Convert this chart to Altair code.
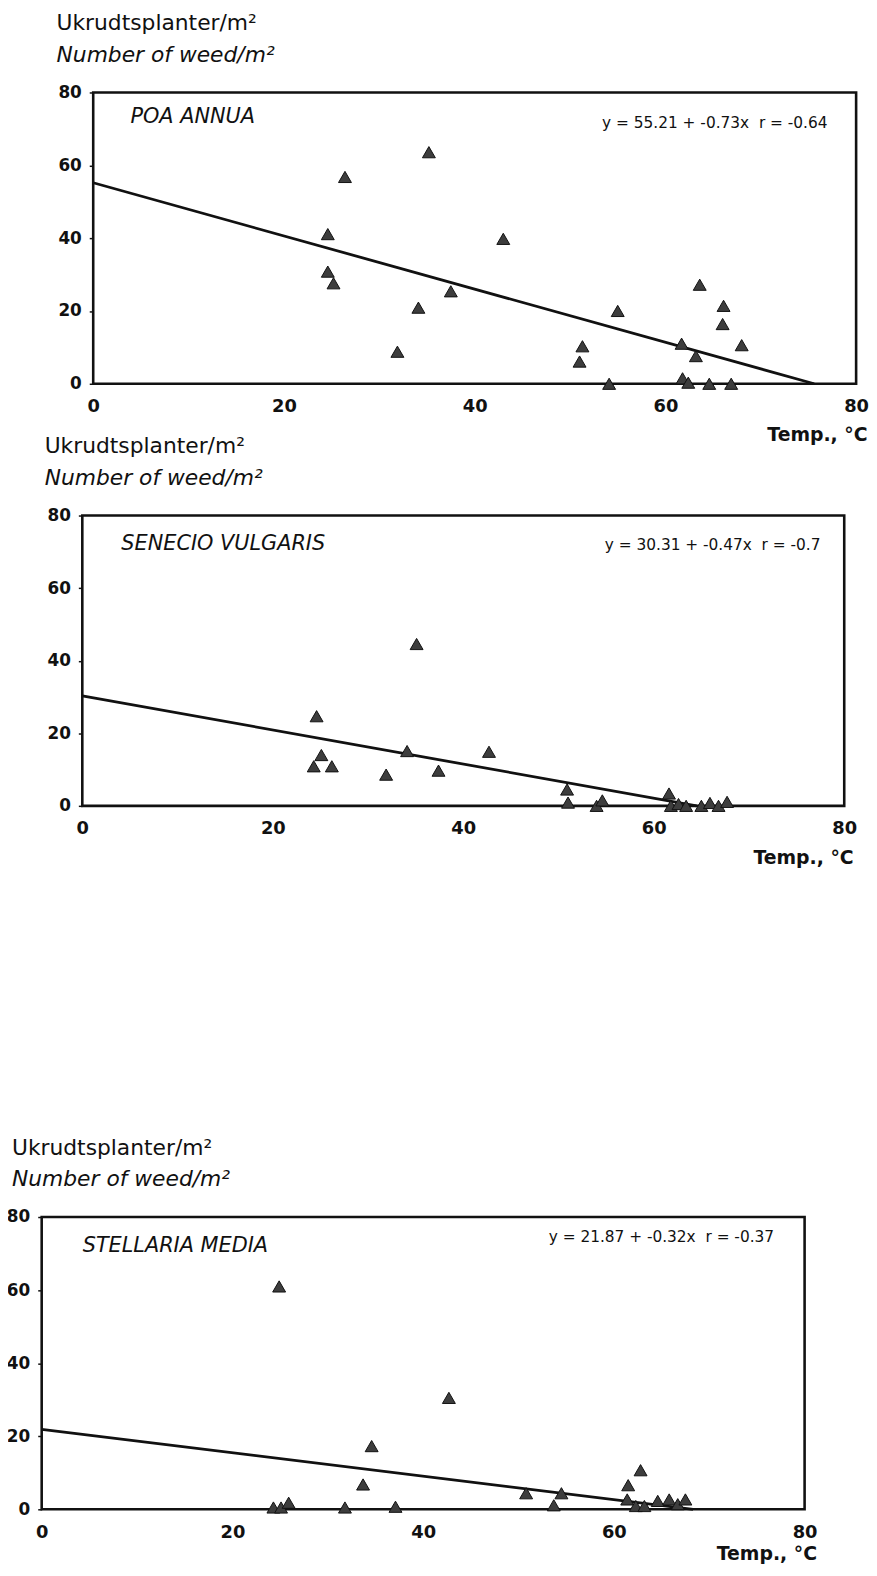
import altair as alt
import pandas as pd

# ---------------- data ----------------
temp_ticks = [0, 20, 40, 60, 80]
weed_ticks = [0, 20, 40, 60, 80]

species = ["POA ANNUA", "SENECIO VULGARIS", "STELLARIA MEDIA"]
equations = [
    "y = 55.21 + -0.73x\u00a0\u00a0r = -0.64",
    "y = 30.31 + -0.47x\u00a0\u00a0r = -0.7",
    "y = 21.87 + -0.32x\u00a0\u00a0r = -0.37",
]

poa_temp = [24.6, 24.6, 25.2, 26.4, 35.2, 31.9, 34.1, 37.5, 43.0, 51.3, 51.0, 54.1,
            55.0, 61.7, 61.8, 62.4, 63.2, 63.6, 64.6, 66.1, 66.0, 66.9, 68.0]
poa_weed = [41.1, 30.8, 27.6, 56.8, 63.6, 8.8, 20.9, 25.4, 39.8, 10.3, 6.1, 0.0,
            20.0, 11.0, 1.5, 0.3, 7.6, 27.2, 0.0, 21.4, 16.4, 0.0, 10.6]
poa_fit_temp = [0, 75.6]
poa_fit_weed = [55.21, 0]

sen_temp = [24.6, 25.1, 24.3, 26.2, 31.9, 34.1, 35.1, 37.4, 42.7, 50.9, 51.0, 54.0,
            54.6, 61.6, 61.8, 62.6, 63.4, 65.0, 65.9, 66.8, 67.7]
sen_weed = [24.7, 14.0, 10.9, 10.9, 8.6, 15.1, 44.6, 9.7, 14.9, 4.5, 0.9, 0.0,
            1.5, 3.4, 0.0, 0.5, 0.0, 0.0, 0.8, 0.0, 1.1]
sen_fit_temp = [0, 64.5]
sen_fit_weed = [30.31, 0]

ste_temp = [24.9, 42.7, 34.6, 33.7, 24.3, 25.1, 25.9, 31.8, 37.1, 50.8, 54.5, 53.7,
            61.5, 62.8, 61.4, 62.3, 63.2, 64.6, 65.8, 66.7, 67.5]
ste_weed = [61.0, 30.5, 17.3, 6.8, 0.5, 0.5, 1.8, 0.5, 0.7, 4.4, 4.4, 1.1,
            6.6, 10.7, 2.7, 0.9, 0.9, 2.3, 2.7, 1.4, 2.7]
ste_fit_temp = [0, 68.3]
ste_fit_weed = [21.87, 0]

# ---------------- layout / style ----------------
FONT = "DejaVu Sans"
INK = "#111111"
VIEW_W = 822

layout = [
    dict(xr=[52, 822], ph=294, vh=427, hdx=15, tx=833, ty=51, name_at=(3.9, 73.3), eq_at=(77.0, 71.6)),
    dict(xr=[41, 810], ph=293, vh=708, hdx=3, tx=819, ty=52, name_at=(4.1, 72.2), eq_at=(77.5, 71.8)),
    dict(xr=[0, 770], ph=295, vh=295, hdx=-30, tx=782, ty=45, name_at=(4.3, 72.1), eq_at=(76.8, 74.5)),
]


def make_panel(i, temp, weed, fit_t, fit_w):
    L = layout[i]
    xs = alt.Scale(domain=[temp_ticks[0], temp_ticks[-1]], range=L["xr"], nice=False, zero=False)
    ys = alt.Scale(domain=[weed_ticks[0], weed_ticks[-1]], range=[L["ph"], 0], nice=False, zero=False)
    xa = alt.Axis(
        values=temp_ticks, title="Temp., °C", domain=False, ticks=False, grid=False,
        labelPadding=14, labelFont=FONT, labelFontSize=18, labelFontWeight="bold",
        labelColor=INK, labelFlush=False, offset=-(L["vh"] - L["ph"]),
        titleX=L["tx"], titleY=L["ty"], titleAlign="right", titleBaseline="middle",
        titleAnchor="end", titleFont=FONT, titleFontSize=19, titleFontWeight="bold",
        titleColor=INK,
    )
    ya = alt.Axis(
        values=weed_ticks, title=None, domain=False, grid=False, tickSize=4,
        tickColor=INK, tickWidth=1.5, labelPadding=8, labelFont=FONT, labelFontSize=17,
        labelFontWeight="bold", labelColor=INK, labelFlush=False, offset=-L["xr"][0],
    )
    X = alt.X("Temp:Q", scale=xs, axis=xa)
    Y = alt.Y("Weed:Q", scale=ys, axis=ya)

    pts = pd.DataFrame({"Temp": temp, "Weed": weed})
    fit = pd.DataFrame({"Temp": fit_t, "Weed": fit_w})
    frame = pd.DataFrame({"Temp": [temp_ticks[0]], "Temp2": [temp_ticks[-1]],
                          "Weed": [weed_ticks[0]], "Weed2": [weed_ticks[-1]]})
    name = pd.DataFrame({"Temp": [L["name_at"][0]], "Weed": [L["name_at"][1]], "label": [species[i]]})
    eq = pd.DataFrame({"Temp": [L["eq_at"][0]], "Weed": [L["eq_at"][1]], "label": [equations[i]]})

    frame_layer = alt.Chart(frame).mark_rect(fillOpacity=0, stroke=INK, strokeWidth=2.6).encode(
        x=X, x2="Temp2:Q", y=Y, y2="Weed2:Q")
    fit_layer = alt.Chart(fit).mark_line(color=INK, strokeWidth=2.8).encode(x=X, y=Y)
    pts_layer = alt.Chart(pts).mark_point(
        shape="triangle-up", filled=True, size=170, color="#3d3d3d",
        stroke=INK, strokeWidth=1, opacity=1).encode(x=X, y=Y)
    name_layer = alt.Chart(name).mark_text(
        align="left", baseline="middle", font=FONT, fontSize=21, fontStyle="italic",
        color=INK).encode(x=X, y=Y, text="label:N")
    eq_layer = alt.Chart(eq).mark_text(
        align="right", baseline="middle", font=FONT, fontSize=15.5, color=INK).encode(
        x=X, y=Y, text="label:N")

    title = alt.TitleParams(
        text="Ukrudtsplanter/m²", subtitle="Number of weed/m²", anchor="start",
        frame="group", dx=L["hdx"], offset=17, font=FONT, fontSize=22,
        fontWeight="normal", color=INK, subtitleFont=FONT, subtitleFontSize=22,
        subtitleFontStyle="italic", subtitleColor=INK, subtitlePadding=10,
    )
    return alt.layer(frame_layer, fit_layer, pts_layer, name_layer, eq_layer).properties(
        width=VIEW_W, height=L["vh"], title=title)


p1 = make_panel(0, poa_temp, poa_weed, poa_fit_temp, poa_fit_weed)
p2 = make_panel(1, sen_temp, sen_weed, sen_fit_temp, sen_fit_weed)
p3 = make_panel(2, ste_temp, ste_weed, ste_fit_temp, ste_fit_weed)

chart = alt.vconcat(p1, p2, p3, spacing=0, bounds="flush").properties(
    padding={"left": -2, "top": -3, "right": 0, "bottom": 0},
    background="white",
).configure_view(strokeWidth=0)

chart.save("out.html", embed_options={"renderer": "svg", "actions": False})
